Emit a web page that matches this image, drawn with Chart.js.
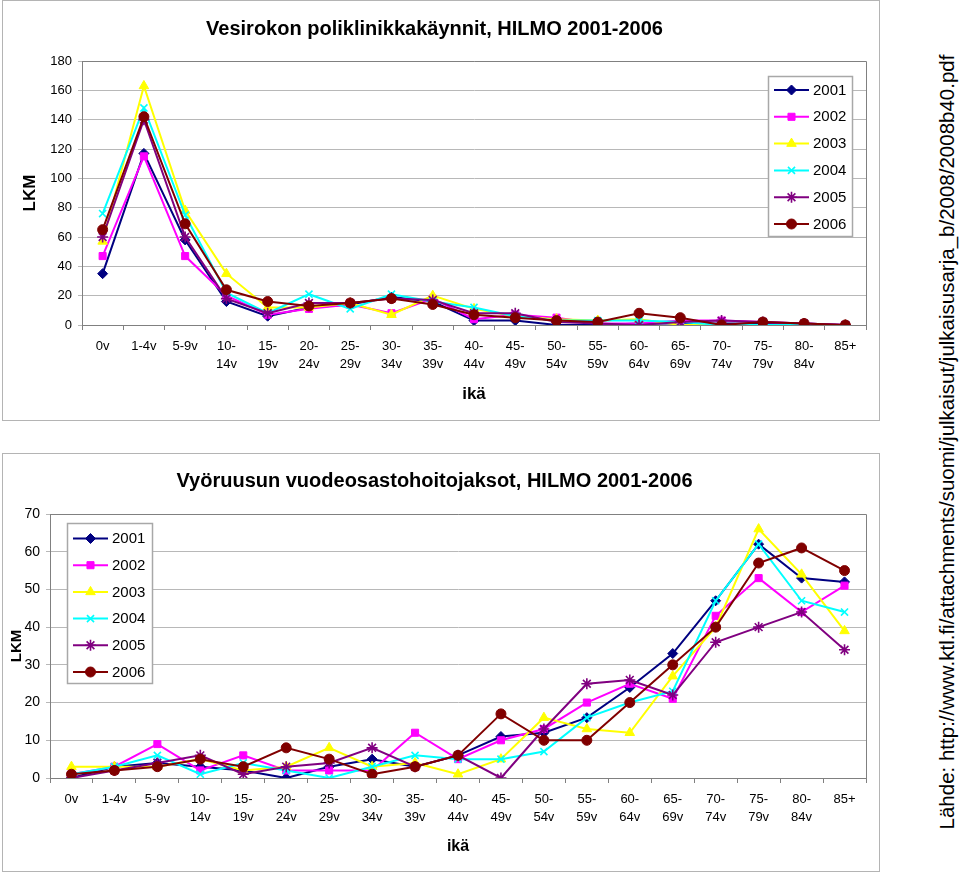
<!DOCTYPE html>
<html>
<head>
<meta charset="utf-8">
<script src="https://cdn.jsdelivr.net/npm/chart.js@4/dist/chart.umd.min.js"></script>
<style>
  html, body { margin: 0; padding: 0; background: #ffffff; }
  body { width: 960px; height: 875px; position: relative; overflow: hidden; font-family: "Liberation Sans", Arial, sans-serif; }
  .frame { position: absolute; border: 1px solid #b4b4b4; box-sizing: border-box; background: #fff; }
  .frame canvas { position: absolute; left: 0; top: 0; }
  #source { position: absolute; left: 947px; top: 442px; transform: translate(-50%, -50%) rotate(-90deg); white-space: nowrap; font-size: 20.5px; color: #000; font-family: "Liberation Sans", Arial, sans-serif; }
</style>
</head>
<body>
<div class="frame" style="left:2px;top:0px;width:878px;height:421px;"><canvas id="c1" width="878" height="421"></canvas></div>
<div class="frame" style="left:2px;top:453px;width:878px;height:419px;"><canvas id="c2" width="878" height="419"></canvas></div>
<div id="source">Lähde: http://www.ktl.fi/attachments/suomi/julkaisut/julkaisusarja_b/2008/2008b40.pdf</div>
<script>
// ---- data ----
const ageGroups = ['0v','1-4v','5-9v','10-14v','15-19v','20-24v','25-29v','30-34v','35-39v','40-44v','45-49v','50-54v','55-59v','60-64v','65-69v','70-74v','75-79v','80-84v','85+'];
const ageTickLabels = [['0v'],['1-4v'],['5-9v'],['10-','14v'],['15-','19v'],['20-','24v'],['25-','29v'],['30-','34v'],['35-','39v'],['40-','44v'],['45-','49v'],['50-','54v'],['55-','59v'],['60-','64v'],['65-','69v'],['70-','74v'],['75-','79v'],['80-','84v'],['85+']];
const years = ['2001','2002','2003','2004','2005','2006'];

const titleTop = 'Vesirokon poliklinikkakäynnit, HILMO 2001-2006';
const titleBottom = 'Vyöruusun vuodeosastohoitojaksot, HILMO 2001-2006';
const yTitle = 'LKM';
const xTitle = 'ikä';
const sourceText = 'Lähde: http://www.ktl.fi/attachments/suomi/julkaisut/julkaisusarja_b/2008/2008b40.pdf';

// Vesirokko (chickenpox) outpatient visits
const vesi2001 = [35,117,58,16,6,12,14,19,16,3,3,0,0,1,1,1,1,1,0];
const vesi2002 = [47,115,47,20,7,11,14,8,18,4,7,5,1,1,3,3,2,1,0];
const vesi2003 = [57,163,78,35,12,12,15,7,20,11,6,4,3,4,0,0,0,0,0];
const vesi2004 = [76,148,75,22,8,21,11,21,16,12,6,3,3,3,2,0,0,0,0];
const vesi2005 = [60,140,60,18,8,15,15,18,17,8,8,2,1,0,2,3,2,1,0];
const vesi2006 = [65,142,69,24,16,13,15,18,14,7,5,3,2,8,5,0,2,1,0];

// Vyöruusu (shingles) inpatient episodes
const vyo2001 = [0,3,4,3,2,0,3,5,3,6,11,12,16,24,33,47,62,53,52];
const vyo2002 = [1,3,9,2,6,2,2,2,12,5,10,13,20,25,21,43,53,44,51];
const vyo2003 = [3,3,3,5,2,3,8,3,4,1,5,16,13,12,27,40,66,54,39];
const vyo2004 = [1,3,6,1,4,2,0,3,6,5,5,7,16,20,23,47,62,47,44];
const vyo2005 = [0,2,4,6,1,3,4,8,3,6,0,13,25,26,22,36,40,44,34];
const vyo2006 = [1,2,3,5,3,8,5,1,3,6,17,10,10,20,30,40,57,61,55];

const topYTicks = [0,20,40,60,80,100,120,140,160,180];
const bottomYTicks = [0,10,20,30,40,50,60,70];

// ---- styles ----
const FONT = '"Liberation Sans", Arial, sans-serif';
const seriesColors = ['#000080','#FF00FF','#FFFF00','#00FFFF','#800080','#800000'];
const seriesPoints = ['rectRot','rect','triangle','crossRot','star','circle'];
const seriesRadius = [5,5,5.5,5,5.5,5];

function buildDatasets(arrays) {
  return arrays.map((arr, i) => ({
    label: years[i],
    data: arr,
    borderColor: seriesColors[i],
    backgroundColor: seriesColors[i],
    pointBackgroundColor: seriesColors[i],
    pointBorderColor: seriesColors[i],
    pointStyle: seriesPoints[i],
    pointRadius: seriesRadius[i],
    pointBorderWidth: (seriesPoints[i] === 'crossRot' || seriesPoints[i] === 'star') ? 1.6 : 1,
    borderWidth: 2,
    tension: 0,
    fill: false,
    order: arrays.length - i
  }));
}

const framePlugin = {
  id: 'framePlugin',
  beforeDatasetsDraw(chart) {
    const {ctx, chartArea: a} = chart;
    ctx.save();
    ctx.strokeStyle = '#808080';
    ctx.lineWidth = 1;
    ctx.beginPath();
    ctx.moveTo(Math.round(a.left) + 0.5, Math.round(a.top) + 0.5);
    ctx.lineTo(Math.round(a.right) + 0.5, Math.round(a.top) + 0.5);
    ctx.lineTo(Math.round(a.right) + 0.5, Math.round(a.bottom) + 0.5);
    ctx.stroke();
    ctx.restore();
  },
  afterDraw(chart, args, o) {
    if (!o || !o.box) return;
    const {ctx, chartArea: a} = chart;
    const b = o.box;
    const bx = b.fromRight ? a.right - b.dx : a.left + b.dx;
    const by = a.top + b.dy;
    ctx.save();
    ctx.fillStyle = '#ffffff';
    ctx.fillRect(bx, by, b.w, b.h);
    ctx.strokeStyle = '#a8a8a8';
    ctx.lineWidth = 1.5;
    ctx.strokeRect(bx + 0.5, by + 0.5, b.w, b.h);
    ctx.font = '15px ' + FONT;
    ctx.textBaseline = 'middle';
    ctx.textAlign = 'left';
    chart.data.datasets.forEach((ds, i) => {
      const y = by + b.firstRow + i * b.rowStep;
      ctx.strokeStyle = ds.borderColor;
      ctx.lineWidth = 2;
      ctx.beginPath();
      ctx.moveTo(bx + 6, y);
      ctx.lineTo(bx + 41, y);
      ctx.stroke();
      ctx.fillStyle = ds.pointBackgroundColor;
      ctx.strokeStyle = ds.pointBorderColor;
      ctx.lineWidth = ds.pointBorderWidth;
      if (Chart.helpers && Chart.helpers.drawPoint) {
        Chart.helpers.drawPoint(ctx, {pointStyle: ds.pointStyle, radius: ds.pointRadius, borderWidth: ds.pointBorderWidth, rotation: 0}, bx + 23.5, y);
      }
      ctx.fillStyle = '#000000';
      ctx.fillText(ds.label, bx + 45, y + 0.5);
    });
    ctx.restore();
  }
};

function makeChart(id, cfg) {
  return new Chart(document.getElementById(id), {
    type: 'line',
    data: { labels: ageGroups, datasets: buildDatasets(cfg.series) },
    options: {
      responsive: false,
      animation: false,
      events: [],
      layout: { padding: { left: 0, right: 15, top: 0, bottom: 0 } },
      plugins: {
        legend: { display: false },
        tooltip: { enabled: false },
        title: {
          display: true,
          text: cfg.title,
          color: '#000',
          font: { family: FONT, size: 20, weight: 'bold', lineHeight: 1.2 },
          padding: { top: cfg.titlePadTop, bottom: cfg.titlePadBottom }
        },
        framePlugin: { box: cfg.legendBox }
      },
      scales: {
        x: {
          type: 'category',
          offset: true,
          afterFit: (s) => { s.height = cfg.xHeight; },
          grid: { display: true, drawOnChartArea: false, drawTicks: true, tickLength: 5, offset: true, color: '#808080' },
          border: { display: true, color: '#808080', width: 1 },
          ticks: {
            color: '#000',
            padding: 7,
            maxRotation: 0,
            autoSkip: false,
            font: { family: FONT, size: 13, lineHeight: 1.4 },
            callback: (v, i) => ageTickLabels[i]
          },
          title: {
            display: true,
            text: xTitle,
            color: '#000',
            font: { family: FONT, size: cfg.xTitleSize, weight: 'bold', lineHeight: 1.2 },
            padding: { top: 0, bottom: cfg.xTitlePad }
          }
        },
        y: {
          min: 0,
          max: cfg.yMax,
          afterFit: (s) => { s.width = cfg.yWidth; },
          afterBuildTicks: (s) => { s.ticks = cfg.yTicks.map(v => ({ value: v })); },
          grid: { display: true, color: '#b8b8b8', drawTicks: true, tickLength: 4, lineWidth: 1 },
          border: { display: true, color: '#808080', width: 1 },
          ticks: {
            color: '#000',
            padding: 6,
            font: { family: FONT, size: cfg.yTickSize }
          },
          title: {
            display: true,
            text: yTitle,
            color: '#000',
            font: { family: FONT, size: cfg.yTitleSize, weight: 'bold', lineHeight: 1.2 },
            padding: { top: cfg.yTitlePad, bottom: 0 }
          }
        }
      }
    },
    plugins: [framePlugin]
  });
}

makeChart('c1', {
  series: [vesi2001, vesi2002, vesi2003, vesi2004, vesi2005, vesi2006],
  title: titleTop,
  titlePadTop: 16, titlePadBottom: 20,
  xHeight: 97, yWidth: 79,
  yMax: 180, yTicks: topYTicks, yTickSize: 13,
  yTitleSize: 17, yTitlePad: 17,
  xTitleSize: 17, xTitlePad: 17,
  legendBox: { fromRight: true, dx: 98, dy: 15, w: 84, h: 160, firstRow: 14, rowStep: 26.8 }
});

makeChart('c2', {
  series: [vyo2001, vyo2002, vyo2003, vyo2004, vyo2005, vyo2006],
  title: titleBottom,
  titlePadTop: 15, titlePadBottom: 21,
  xHeight: 95, yWidth: 47,
  yMax: 70, yTicks: bottomYTicks, yTickSize: 14,
  yTitleSize: 15, yTitlePad: 4.5,
  xTitleSize: 16, xTitlePad: 17,
  legendBox: { fromRight: false, dx: 17, dy: 9, w: 85, h: 160, firstRow: 15.5, rowStep: 26.7 }
});
</script>
</body>
</html>
